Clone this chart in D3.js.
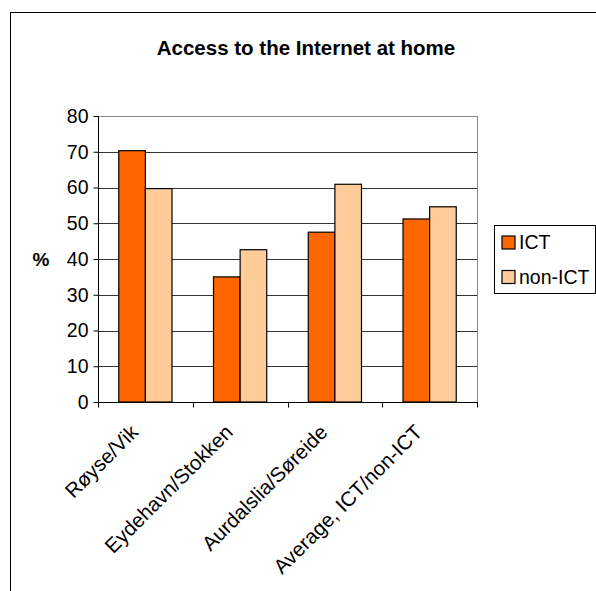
<!DOCTYPE html>
<html lang="en">
<head>
<meta charset="utf-8">
<title>Access to the Internet at home</title>
<script src="https://cdn.jsdelivr.net/npm/d3@7"></script>
<style>
  body { margin: 0; background: #fff; }
  text { font-family: "Liberation Sans", Arial, sans-serif; }
</style>
</head>
<body>
<script>
// data
var categories = ["Røyse/Vik", "Eydehavn/Stokken", "Aurdalslia/Søreide", "Average, ICT/non-ICT"];
var seriesNames = ["ICT", "non-ICT"];
var ictValues = [70.3, 35.0, 47.5, 51.2];
var nonIctValues = [59.7, 42.6, 60.9, 54.6];
var yTicks = [0, 10, 20, 30, 40, 50, 60, 70, 80];
var colors = ["#ff6600", "#ffcc99"];

var w = 596, h = 591;
var plotL = 98, plotR = 477, plotT = 116, plotB = 402;

var svg = d3.select("body").append("svg")
  .attr("width", w)
  .attr("height", h);

// outer chart frame
svg.append("rect")
  .attr("x", 10.5).attr("y", 12.5)
  .attr("width", 600).attr("height", 600)
  .attr("fill", "none").attr("stroke", "#000").attr("stroke-width", 1);

svg.append("text")
  .attr("x", 306).attr("y", 55)
  .attr("text-anchor", "middle")
  .attr("font-size", "20.5px").attr("font-weight", "bold")
  .text("Access to the Internet at home");

var x = d3.scaleBand().domain(categories).range([plotL, plotR]);
var xs = d3.scaleBand().domain(seriesNames).range([0, x.bandwidth()]).paddingInner(0).paddingOuter(0.78);
var y = d3.scaleLinear().domain([0, 80]).range([plotB, plotT]);

// gridlines
svg.append("g").selectAll("line")
  .data(yTicks.slice(1))
  .enter().append("line")
  .attr("x1", plotL).attr("x2", plotR)
  .attr("y1", function(d) { return Math.round(y(d)) + 0.5; })
  .attr("y2", function(d) { return Math.round(y(d)) + 0.5; })
  .attr("stroke", function(d) { return d == 80 ? "#888" : "#333"; })
  .attr("stroke-width", 1);

// right border of plot area
svg.append("line")
  .attr("x1", plotR + 0.5).attr("x2", plotR + 0.5)
  .attr("y1", plotT).attr("y2", plotB)
  .attr("stroke", "#888");

// bars
var rows = categories.map(function(c, i) {
  return [{ cat: c, s: "ICT", v: ictValues[i] }, { cat: c, s: "non-ICT", v: nonIctValues[i] }];
});

svg.append("g").selectAll("g")
  .data(rows)
  .enter().append("g")
  .attr("transform", function(d) { return "translate(" + x(d[0].cat) + ",0)"; })
  .selectAll("rect")
  .data(function(d) { return d; })
  .enter().append("rect")
  .attr("x", function(d) { return xs(d.s); })
  .attr("y", function(d) { return y(d.v); })
  .attr("width", xs.bandwidth())
  .attr("height", function(d) { return y(0) - y(d.v); })
  .attr("fill", function(d) { return colors[seriesNames.indexOf(d.s)]; })
  .attr("stroke", "#000")
  .attr("stroke-width", 1.2);

// y axis
var yAxis = svg.append("g")
  .attr("transform", "translate(" + (plotL + 0.5) + ",0)")
  .call(d3.axisLeft(y).tickValues(yTicks).tickSize(5).tickPadding(5));
yAxis.selectAll("text").attr("font-size", "19.5px").attr("fill", "#000").attr("font-family", "Liberation Sans, Arial, sans-serif");
yAxis.selectAll("line, path").attr("stroke", "#000");
yAxis.select(".domain").attr("d", "M0," + plotT + "V" + (plotB + 0.5));

// x axis
var xAxis = svg.append("g")
  .attr("transform", "translate(0," + (plotB + 0.5) + ")");
xAxis.append("line")
  .attr("x1", plotL).attr("x2", plotR + 1)
  .attr("stroke", "#000");
xAxis.selectAll(".tk")
  .data(categories.concat([null]))
  .enter().append("line")
  .attr("x1", function(d, i) { return Math.round(plotL + i * x.step()) + 0.5; })
  .attr("x2", function(d, i) { return Math.round(plotL + i * x.step()) + 0.5; })
  .attr("y1", 0).attr("y2", 5)
  .attr("stroke", "#000");
xAxis.selectAll(".lbl")
  .data(categories)
  .enter().append("text")
  .attr("text-anchor", "end")
  .attr("font-size", "20.5px")
  .attr("transform", function(d) {
    return "translate(" + (x(d) + x.bandwidth() / 2 - 6) + ",31) rotate(-45)";
  })
  .text(function(d) { return d; });

// y title
svg.append("text")
  .attr("x", 41).attr("y", 266)
  .attr("text-anchor", "middle")
  .attr("font-size", "19px").attr("font-weight", "bold")
  .text("%");

// legend
var lg = svg.append("g");
lg.append("rect")
  .attr("x", 494.5).attr("y", 225.5)
  .attr("width", 101).attr("height", 68)
  .attr("fill", "#fff").attr("stroke", "#000");
var item = lg.selectAll(".item")
  .data(seriesNames)
  .enter().append("g")
  .attr("transform", function(d, i) { return "translate(502," + (236 + i * 34.5) + ")"; });
item.append("rect")
  .attr("width", 13).attr("height", 13)
  .attr("fill", function(d, i) { return colors[i]; })
  .attr("stroke", "#000").attr("stroke-width", 1.2);
item.append("text")
  .attr("x", 17).attr("y", 13)
  .attr("font-size", "19.5px")
  .text(function(d) { return d; });
</script>
</body>
</html>
